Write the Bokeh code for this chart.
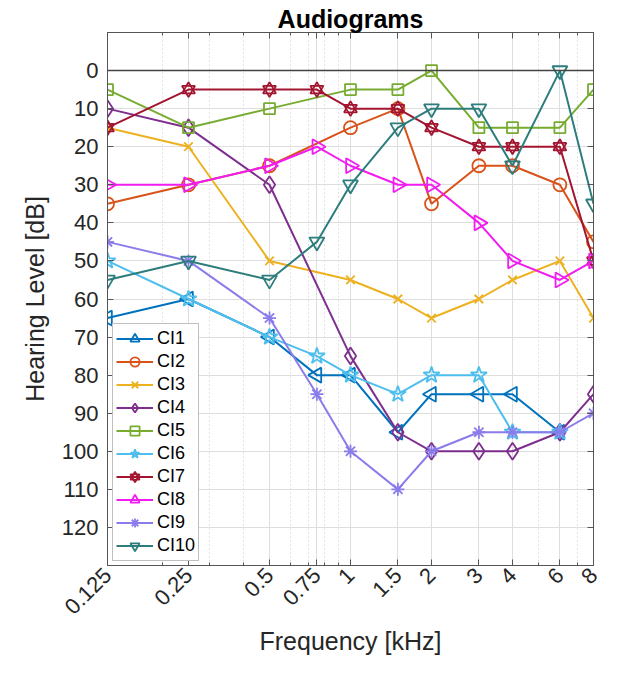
import math
from bokeh.plotting import figure
from bokeh.models import (Range1d, FixedTicker, LogAxis, LinearAxis, Legend,
                          LegendItem, Span, CustomJSTickFormatter)
from bokeh.embed import file_html
from bokeh.resources import INLINE

# ---------------- data ----------------
freqs = [0.125, 0.25, 0.5, 0.75, 1, 1.5, 2, 3, 4, 6, 8]
freq_labels = ["0.125", "0.25", "0.5", "0.75", "1", "1.5", "2", "3", "4", "6", "8"]
minor_freqs = [0.2, 0.3, 0.4, 0.6, 0.7, 0.8, 0.9, 5, 7]
db_ticks = [0, 10, 20, 30, 40, 50, 60, 70, 80, 90, 100, 110, 120]

ci1 = [65, 60, 70, 80, 80, 95, 85, 85, 85, 95, None]
ci2 = [35, 30, 25, None, 15, 10, 35, 25, 25, 30, 45]
ci3 = [15, 20, 50, None, 55, 60, 65, 60, 55, 50, 65]
ci4 = [10, 15, 30, None, 75, 95, 100, 100, 100, 95, 85]
ci5 = [5, 15, 10, None, 5, 5, 0, 15, 15, 15, 5]
ci6 = [50, 60, 70, 75, 80, 85, 80, 80, 95, 95, None]
ci7 = [15, 5, 5, 5, 10, 10, 15, 20, 20, 20, 50]
ci8 = [30, 30, 25, 20, 25, 30, 30, 40, 50, 55, 50]
ci9 = [45, 50, 65, 85, 100, 110, 100, 95, 95, 95, 90]
ci10 = [55, 50, 55, 45, 30, 15, 10, 10, 25, 0, 35]

names = ["CI1", "CI2", "CI3", "CI4", "CI5", "CI6", "CI7", "CI8", "CI9", "CI10"]
series = [ci1, ci2, ci3, ci4, ci5, ci6, ci7, ci8, ci9, ci10]
colors = ["#0072BD", "#D95319", "#EDB120", "#7E2F8E", "#77AC30",
          "#4DBEEE", "#A2142F", "#F01CF0", "#8A7CEB", "#2E7D7D"]
# (marker, size, angle) lists
markers = [
    [("triangle", 15, math.pi / 2)],
    [("circle", 13, 0)],
    [("x", 12, 0)],
    [("diamond", 17, 0)],
    [("square", 11, 0)],
    [("star", 17, 0)],
    [("triangle", 13, 0), ("inverted_triangle", 13, 0)],
    [("triangle", 15, -math.pi / 2)],
    [("asterisk", 13, 0)],
    [("inverted_triangle", 15, 0)],
]

FONT = "Liberation Sans"
TXT = "#262626"
AX = "#555555"

p = figure(width=640, height=677, x_axis_type="log",
           x_range=Range1d(0.125, 8), y_range=Range1d(130, -10),
           output_backend="svg", toolbar_location=None,
           min_border_left=107, min_border_right=47,
           min_border_top=32, min_border_bottom=112)

p.title.text = "Audiograms"
p.title.align = "center"
p.title.text_font = FONT
p.title.text_font_size = "25px"
p.title.text_font_style = "bold"
p.title.text_color = "#000000"
p.title.standoff = 0
p.title.offset = 0

xt = FixedTicker(ticks=freqs, minor_ticks=minor_freqs)
yt = FixedTicker(ticks=db_ticks)

xa = p.xaxis[0]
xa.ticker = xt
xa.major_label_overrides = {f: l for f, l in zip(freqs, freq_labels)}
xa.major_label_orientation = math.pi / 4
xa.axis_label = "Frequency [kHz]"

ya = p.yaxis[0]
ya.ticker = yt
ya.axis_label = "Hearing Level [dB]"

for ax in (xa, ya):
    ax.major_tick_in = 6
    ax.major_tick_out = 0
    ax.minor_tick_in = 3
    ax.minor_tick_out = 0
    ax.axis_line_color = AX
    ax.major_tick_line_color = AX
    ax.minor_tick_line_color = AX
    ax.major_label_text_font = FONT
    ax.major_label_text_font_size = "22px"
    ax.major_label_text_color = TXT
    ax.axis_label_text_font = FONT
    ax.axis_label_text_font_size = "25px"
    ax.axis_label_text_font_style = "normal"
    ax.axis_label_text_color = TXT
xa.major_label_standoff = 6
xa.axis_label_standoff = 3
ya.major_label_standoff = 9
ya.axis_label_standoff = 10

top = LogAxis(ticker=xt, formatter=CustomJSTickFormatter(code="return ''"),
              major_tick_in=6, major_tick_out=0, minor_tick_in=3, minor_tick_out=0,
              axis_line_color=AX, major_tick_line_color=AX,
              minor_tick_line_color=AX, major_label_standoff=0)
right = LinearAxis(ticker=yt, formatter=CustomJSTickFormatter(code="return ''"),
                   major_tick_in=6, major_tick_out=0, minor_tick_out=0,
                   axis_line_color=AX, major_tick_line_color=AX,
                   major_label_standoff=0)
p.add_layout(top, "above")
p.add_layout(right, "right")

p.xgrid.grid_line_color = "#dedede"
p.ygrid.grid_line_color = "#dedede"
p.xgrid.minor_grid_line_color = "#c8c8c8"
p.xgrid.minor_grid_line_dash = "1 3"
p.outline_line_color = AX

p.add_layout(Span(location=0, dimension="width", line_color="#444444", line_width=1.6))

items = []
for name, vals, col, mk in zip(names, series, colors, markers):
    xs = [f for f, v in zip(freqs, vals) if v is not None]
    ys = [v for v in vals if v is not None]
    rs = [p.line(xs, ys, line_color=col, line_width=2)]
    for m, s, a in mk:
        rs.append(p.scatter(xs, ys, marker=m, size=s, angle=a,
                            line_color=col, line_width=1.8, fill_alpha=0))
    items.append(LegendItem(label=name, renderers=rs))

legend = Legend(items=items, location=(5, 4), orientation="vertical",
                label_text_font=FONT, label_text_font_size="18px",
                label_text_color="#000000",
                glyph_width=37, glyph_height=23, label_height=23, spacing=0,
                padding=3, margin=0, label_standoff=4,
                border_line_color="#7f7f7f", border_line_width=1,
                background_fill_color="white", background_fill_alpha=1)
p.add_layout(legend, "center")

open("out.html", "w").write(file_html(p, INLINE))
